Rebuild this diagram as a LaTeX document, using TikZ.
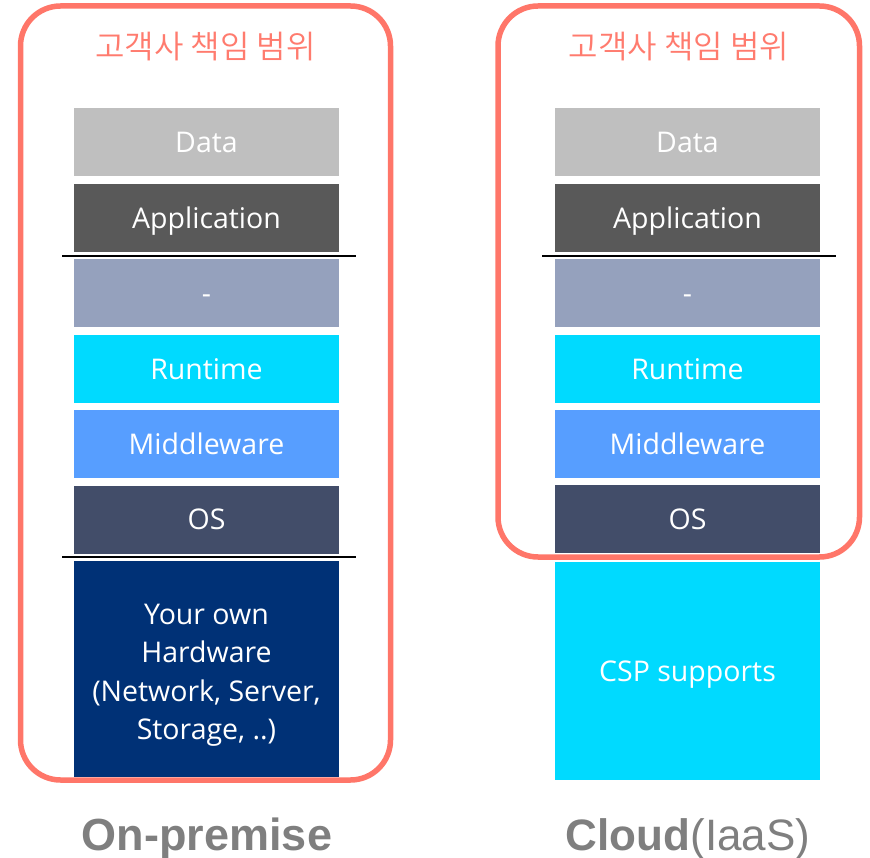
\documentclass[tikz,border=0pt]{standalone}
\usepackage{fontspec}
\setmainfont{Open Sans}
\newfontfamily\krfont{Noto Sans CJK KR DemiLight}
\newfontfamily\capfont{Liberation Sans}

\definecolor{scopered}{HTML}{FF7669}
\definecolor{scopetext}{HTML}{FF7B6E}
\definecolor{cData}{HTML}{BFBFBF}
\definecolor{cApp}{HTML}{595959}
\definecolor{cBlank}{HTML}{95A1BD}
\definecolor{cRuntime}{HTML}{00DAFF}
\definecolor{cMiddle}{HTML}{579EFF}
\definecolor{cOS}{HTML}{424D69}
\definecolor{cHW}{HTML}{003176}
\definecolor{capgray}{HTML}{7F7F7F}

\begin{document}
\begin{tikzpicture}[x=1pt,y=-1pt,
  boxfont/.style={text=white, font=\fontsize{28.5}{38.5}\selectfont},
  layer/.style={boxfont, minimum width=265pt, minimum height=68pt, inner sep=0pt,
    text height=20.4pt, text depth=0pt},
  scopebox/.style={draw=scopered, line width=5.5pt, rounded corners=40pt,
    inner sep=0pt},
  scopetitle/.style={text=scopetext, font=\krfont\fontsize{32}{38}\selectfont},
  sep/.style={draw=black, line width=1.3pt},
  caption/.style={text=capgray, anchor=base, font=\capfont\fontsize{45}{50}\selectfont}
]
\useasboundingbox (0,0) rectangle (870,858);

% ---- On-premise stack ----
\node[layer, fill=cData]    (dataL) at (206.5,142)   {Data};
\node[layer, fill=cApp]     (appL)  at (206.5,218)   {Application};
\node[layer, fill=cBlank]   (virtL) at (206.5,293)   {-};
\node[layer, fill=cRuntime] (runL)  at (206.5,369)   {Runtime};
\node[layer, fill=cMiddle]  (midL)  at (206.5,444)   {Middleware};
\node[layer, fill=cOS]      (osL)   at (206.5,519.5) {OS};
\node[layer, fill=cHW, minimum height=216pt] (hwL) at (206.5,669) {};
\node[boxfont, align=center, inner sep=0pt] (hwText) at (206.5,675)
  {Your own\\Hardware\\(Network, Server,\\Storage, ..)};

\coordinate (s1a) at (62,256);  \coordinate (s1b) at (356,256);
\coordinate (s2a) at (62,557);  \coordinate (s2b) at (356,557);
\draw[sep] (s1a) -- (s1b);
\draw[sep] (s2a) -- (s2b);

\node[scopebox, minimum width=370pt, minimum height=774pt] (scopeL) at (205.5,393) {};
\node[scopetitle] (titleL) at (205.5,47) {고객사 책임 범위};

\node[caption] (capL) at (207,850) {\bfseries On-premise};

% ---- Cloud (IaaS) stack ----
\node[layer, fill=cData]    (dataR) at (687.5,142)   {Data};
\node[layer, fill=cApp]     (appR)  at (687.5,218)   {Application};
\node[layer, fill=cBlank]   (virtR) at (687.5,293)   {-};
\node[layer, fill=cRuntime] (runR)  at (687.5,369)   {Runtime};
\node[layer, fill=cMiddle]  (midR)  at (687.5,444)   {Middleware};
\node[layer, fill=cOS]      (osR)   at (687.5,519)   {OS};
\node[layer, fill=cRuntime, minimum height=218pt] (cspR) at (687.5,671) {CSP supports};

\coordinate (s3a) at (542,256); \coordinate (s3b) at (836,256);
\draw[sep] (s3a) -- (s3b);

\node[scopebox, minimum width=361.5pt, minimum height=551pt] (scopeR) at (678.75,281.5) {};
\node[scopetitle] (titleR) at (679,47) {고객사 책임 범위};

\node[caption] (capR) at (688,850) {\fontsize{44}{50}\selectfont\textbf{Cloud}(IaaS)};
\end{tikzpicture}
\end{document}
